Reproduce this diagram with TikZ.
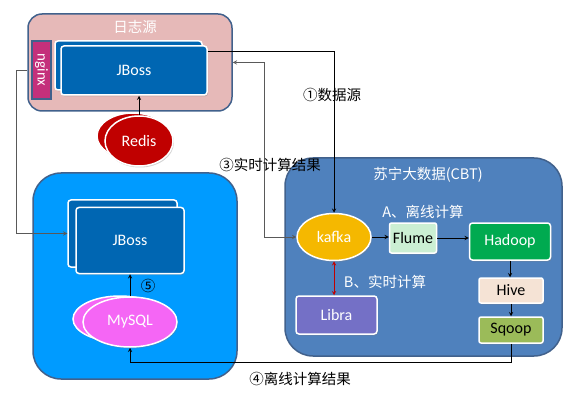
\documentclass[tikz,border=0pt]{standalone}
\usepackage{fontspec}
\setmainfont{Carlito}
\newfontfamily\cjk{Noto Sans CJK SC}
\usepackage{xcolor}
\usetikzlibrary{shapes.geometric, arrows}
\usetikzlibrary{shadows}
%%%%%%% colours
\definecolor{frameblue}{HTML}{41618C}
\definecolor{srcpink}{HTML}{E6B9B8}
\definecolor{nginxred}{HTML}{C4307B}
\definecolor{jbossblue}{HTML}{0066B2}
\definecolor{redisred}{HTML}{C00000}
\definecolor{appblue}{HTML}{009BFF}
\definecolor{mysqlpink}{HTML}{F566F5}
\definecolor{cbtblue}{HTML}{4F81BD}
\definecolor{kafkaorange}{HTML}{F5B800}
\definecolor{flumegreen}{HTML}{CBEFD3}
\definecolor{hadoopgreen}{HTML}{00AA50}
\definecolor{hivepeach}{HTML}{F5E3D5}
\definecolor{sqoopgreen}{HTML}{9BBB59}
\definecolor{librapurple}{HTML}{7470C6}
\tikzset{
every picture/.style={line width=0.8pt, >=stealth},
%%%%%%%%%%  Container styles
container/.style={draw=frameblue, line width=1.5pt, rounded corners=#1,
                  inner sep=0pt},
container/.default=14pt,
box_title/.style={text=white, font=\cjk\fontsize{14.5}{16}\selectfont},
%%%%%%%%%%  Node styles
service_box/.style={draw=white, line width=1.5pt, rounded corners=3pt,
                    inner sep=0pt, text=white,
                    font=\fontsize{16}{18}\selectfont,
                    drop shadow={shadow xshift=1pt, shadow yshift=-1.5pt,
                                 opacity=0.35}},
db_ellipse/.style={ellipse, draw=white, line width=1.5pt, inner sep=0pt,
                   text=white, font=\fontsize{16}{18}\selectfont,
                   drop shadow={shadow xshift=1pt, shadow yshift=-1.5pt,
                                opacity=0.35}},
tool_box/.style={service_box, rounded corners=2pt, text=black},
%%%%%%%%%%  Label styles
flow_label/.style={font=\cjk\fontsize{14.5}{16}\selectfont},
inner_label/.style={flow_label, text=white},
%%%%%%%%%%  Line styles
flow/.style={line width=0.9pt, black},
result_line/.style={line width=0.9pt, black!65},
realtime/.style={line width=0.9pt, redisred}
}
\begin{document}
\begin{tikzpicture}[x=1pt,y=-1pt]
\useasboundingbox (0,0) rectangle (572,403);
%%%%%%%%%%%%%%%%%%%%%%%
%%log source
\node[container, fill=srcpink, minimum width=204, minimum height=97]
	(src) at (130,62.5) {};
\node[box_title] (srctitle) at (135,27) {日志源};
\node[draw=frameblue, line width=1.5pt, fill=nginxred, text=white,
	minimum width=58, minimum height=19, inner sep=0pt, rotate=-90,
	font=\fontsize{15}{16}\selectfont] (nginx) at (41.5,70) {nginx};
\node[service_box, fill=jbossblue, minimum width=147, minimum height=49]
	(jboss1back) at (128.5,65.5) {};
\node[service_box, fill=jbossblue, minimum width=146, minimum height=49]
	(jboss1) at (134,70.5) {JBoss};
%%redis
\node[db_ellipse, fill=redisred, minimum width=72, minimum height=46]
	(redisback) at (133,136) {};
\node[db_ellipse, fill=redisred, minimum width=68, minimum height=50]
	(redis) at (139,141) {Redis};
\draw[flow,->] (redis.north) -- (redis.north |- jboss1.south);
%%%%%%%%%%%%%%%%%%%%%%%
%%application side
\node[container=28pt, fill=appblue, minimum width=204, minimum height=206]
	(app) at (135,276) {};
\node[service_box, fill=jbossblue, minimum width=109, minimum height=67]
	(jboss2back) at (122.5,233.5) {};
\node[service_box, fill=jbossblue, minimum width=108, minimum height=66]
	(jboss2) at (130,240.5) {JBoss};
\node[db_ellipse, fill=mysqlpink, minimum width=94, minimum height=46]
	(mysqlback) at (120,319) {};
\node[db_ellipse, fill=mysqlpink, minimum width=94, minimum height=50]
	(mysql) at (130,322) {MySQL};
\draw[flow,->] (mysql.north) -- (mysql.north |- jboss2.south);
\node[flow_label] (l5) at (148,286) {⑤};
%%%%%%%%%%%%%%%%%%%%%%%
%%suning big data (CBT)
\node[container=28pt, fill=cbtblue, minimum width=277, minimum height=198]
	(cbt) at (423.5,257) {};
\node[box_title] (cbttitle) at (428,175) {苏宁大数据(CBT)};
\node[db_ellipse, fill=kafkaorange, minimum width=74, minimum height=47]
	(kafka) at (334,237) {kafka};
\node[tool_box, fill=flumegreen, minimum width=47, minimum height=30]
	(flume) at (413,238) {Flume};
\node[service_box, fill=hadoopgreen, minimum width=81, minimum height=37]
	(hadoop) at (510,241.5) {Hadoop};
\node[tool_box, fill=hivepeach, minimum width=64, minimum height=25]
	(hive) at (511,290.5) {Hive};
\node[tool_box, fill=sqoopgreen, minimum width=64, minimum height=26]
	(sqoop) at (511,330) {Sqoop};
\node[service_box, fill=librapurple, minimum width=81, minimum height=38]
	(libra) at (336.5,315) {Libra};
\node[inner_label] (offline) at (423,212) {A、离线计算};
\node[inner_label] (online) at (385,282) {B、实时计算};
%%offline chain
\draw[flow,->] (kafka.east) -- (kafka.east -| flume.west);
\draw[flow,->] (flume.east) -- (flume.east -| hadoop.west);
\draw[flow,->] (hadoop.south) -- (hadoop.south |- hive.north);
\draw[flow,->] (hive) -- (sqoop);
%%realtime chain
\draw[realtime,<->] (kafka.south) -- (kafka.south |- libra.north);
%%%%%%%%%%%%%%%%%%%%%%%
%%cross connectors
%%data source
\draw[flow,->] ([yshift=-6pt]jboss1.north east) -| (kafka.north);
\node[flow_label] (l1) at (332,95) {①数据源};
%%realtime result
\draw[result_line,<->] (src.east) -| ([xshift=-32pt]kafka.west)
	-- (kafka.west);
\node[flow_label] (l3) at (270,165) {③实时计算结果};
%%nginx to jboss
\draw[result_line,->] (src.west |- nginx.center) -- ++(-11,0)
	|- (jboss2back.west);
%%offline result
\draw[flow,->] (sqoop.south) -- ++(0,19) -| (mysql.south);
\node[flow_label] (l4) at (300,379) {④离线计算结果};
\end{tikzpicture}
\end{document}
